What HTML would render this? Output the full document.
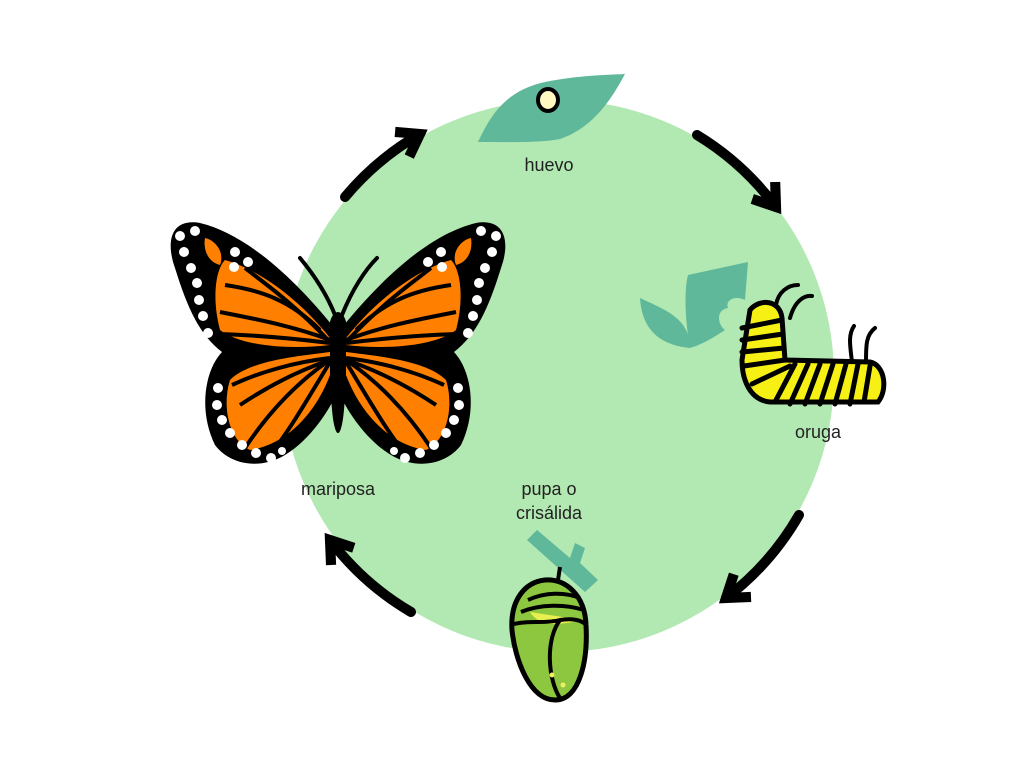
<!DOCTYPE html>
<html><head><meta charset="utf-8"><style>
html,body{margin:0;padding:0;background:#fff;}
svg{display:block;}
text{font-family:"Liberation Sans",sans-serif;font-size:18px;fill:#222;}
</style></head><body>
<svg width="1024" height="768" viewBox="0 0 1024 768" xmlns="http://www.w3.org/2000/svg">
<defs>
<marker id="ah" viewBox="0 0 12 12" refX="8.5" refY="6" markerWidth="38" markerHeight="38" markerUnits="userSpaceOnUse" orient="auto">
<path d="M2,1.5 L8.5,6 L2,10.5" fill="none" stroke="#000" stroke-width="3.2" stroke-linejoin="miter" stroke-linecap="butt"/>
</marker>
</defs>
<circle cx="558" cy="376" r="276" fill="#b2e8b2"/>
<!-- arrows -->
<g fill="none" stroke="#000" stroke-width="10" stroke-linecap="round" marker-end="url(#ah)">
<path d="M345,197 A278,278 0 0 1 420,134"/>
<path d="M697,135 A278,278 0 0 1 776,207"/>
<path d="M799,515 A278,278 0 0 1 726,598"/>
<path d="M411,612 A278,278 0 0 1 330,540"/>
</g>
<!-- egg -->
<path d="M478,142 C492,112 508,90 545,82 C575,76 600,75 625,74 C610,102 592,128 560,139 C540,143 510,142 478,142 Z" fill="#5fb89a"/>
<ellipse cx="548" cy="100" rx="10" ry="11" fill="#fff8c0" stroke="#000" stroke-width="4"/>
<text x="549" y="171" text-anchor="middle">huevo</text>
<!-- caterpillar leaves -->
<path d="M640,298 C665,310 690,318 690,348 C660,345 642,330 640,298 Z" fill="#5fb89a"/>
<path d="M688,275 L748,262 L745,300 C735,295 725,300 728,308 C715,310 718,325 725,330 C710,340 700,345 690,348 C685,320 684,290 688,275 Z" fill="#5fb89a"/>
<!-- caterpillar -->
<g stroke="#000" stroke-linecap="round" fill="none" stroke-width="4">
<path d="M776,305 C778,292 788,285 798,285"/>
<path d="M790,318 C795,300 805,295 812,296"/>
<path d="M852,362 C850,345 848,335 854,326"/>
<path d="M866,362 C866,345 866,335 875,328"/>
</g>
<path d="M750,310 C760,298 780,300 782,318 L785,360 L870,362 C885,365 888,390 878,402 L770,402 C750,400 742,380 742,360 Z" fill="#f7f014" stroke="#000" stroke-width="5"/>
<g stroke="#000" stroke-width="5" stroke-linecap="round">
<line x1="742" y1="328" x2="782" y2="320"/><line x1="742" y1="340" x2="783" y2="334"/>
<line x1="742" y1="352" x2="784" y2="348"/><line x1="744" y1="366" x2="785" y2="360"/>
<line x1="752" y1="384" x2="790" y2="366"/>
<line x1="775" y1="402" x2="795" y2="364"/><line x1="790" y1="404" x2="808" y2="364"/>
<line x1="805" y1="404" x2="820" y2="364"/><line x1="820" y1="404" x2="833" y2="364"/>
<line x1="835" y1="404" x2="846" y2="364"/><line x1="850" y1="404" x2="858" y2="364"/>
<line x1="864" y1="402" x2="870" y2="366"/>
</g>
<text x="818" y="438" text-anchor="middle">oruga</text>
<!-- chrysalis -->
<path d="M527,540 L585,592 L598,580 L580,563 L585,548 L575,543 L570,558 L537,530 Z" fill="#5fb89a"/>
<line x1="560" y1="567" x2="558" y2="580" stroke="#000" stroke-width="4"/>
<path d="M545,580 C565,578 585,595 586,625 C588,660 580,700 555,700 C530,700 515,660 512,630 C510,600 525,582 545,580 Z" fill="#8dc63f" stroke="#000" stroke-width="5"/>
<path d="M530,612 C540,628 560,625 582,620" fill="#e8f050" stroke="none"/>
<g fill="none" stroke="#000" stroke-width="4">
<path d="M528,600 C545,592 565,592 580,598"/>
<path d="M521,612 C540,604 565,604 584,610"/>
<path d="M514,624 C530,620 545,624 560,620 C572,618 582,620 586,625"/>
<path d="M560,620 C545,640 548,680 560,698"/>
</g>
<circle cx="552" cy="675" r="2.5" fill="#f0f060"/><circle cx="563" cy="685" r="2.5" fill="#f0f060"/>
<text x="549" y="495" text-anchor="middle">pupa o</text>
<text x="549" y="519" text-anchor="middle">crisálida</text>
<!-- butterfly -->
<g id="half">
<path d="M336,330 C300,285 250,235 200,223 C172,218 165,240 175,268 C188,310 200,335 222,352 C205,370 198,410 215,445 C230,465 260,470 285,455 C310,440 330,410 338,390 Z" fill="#000"/>
<path d="M330,338 C300,300 260,270 225,260 C215,270 212,300 220,330 C240,346 290,350 330,345 Z" fill="#ff8000"/>
<path d="M205,238 C215,240 225,252 220,265 C208,262 203,250 205,238 Z" fill="#ff8000"/>
<path d="M330,352 C300,356 250,360 230,380 C222,405 228,440 250,450 C285,445 315,415 330,375 Z" fill="#ff8000"/>
<g stroke="#000" stroke-width="4" fill="none">
<path d="M330,342 C290,300 260,280 245,268"/>
<path d="M330,340 C290,325 250,318 220,312"/>
<path d="M330,343 C290,338 250,335 220,334"/>
<path d="M225,285 C260,290 290,300 320,330"/>
<path d="M330,360 C300,380 270,410 245,448"/>
<path d="M330,362 C310,395 290,430 270,455"/>
<path d="M330,360 C300,370 270,385 240,405"/>
<path d="M330,358 C295,362 260,372 232,385"/>
</g>
<g fill="#fff">
<circle cx="180" cy="236" r="5"/><circle cx="195" cy="231" r="5"/><circle cx="184" cy="252" r="5"/><circle cx="191" cy="268" r="5"/>
<circle cx="197" cy="283" r="5"/><circle cx="199" cy="300" r="5"/><circle cx="203" cy="316" r="5"/><circle cx="208" cy="333" r="5"/>
<circle cx="235" cy="252" r="5"/><circle cx="248" cy="262" r="5"/><circle cx="234" cy="267" r="5"/>
<circle cx="218" cy="388" r="5"/><circle cx="217" cy="405" r="5"/><circle cx="222" cy="420" r="5"/><circle cx="230" cy="433" r="5"/>
<circle cx="242" cy="445" r="5"/><circle cx="256" cy="453" r="5"/><circle cx="271" cy="458" r="5"/><circle cx="282" cy="451" r="4"/>
</g>
</g>
<use href="#half" transform="translate(676,0) scale(-1,1)"/>
<g stroke="#000" stroke-width="4" fill="none" stroke-linecap="round">
<path d="M335,315 C325,290 310,270 300,258"/>
<path d="M342,315 C352,290 365,270 377,258"/>
</g>
<ellipse cx="338" cy="330" rx="9" ry="18" fill="#000"/>
<ellipse cx="338" cy="385" rx="7" ry="48" fill="#000"/>
<text x="338" y="495" text-anchor="middle">mariposa</text>
</svg>
</body></html>
